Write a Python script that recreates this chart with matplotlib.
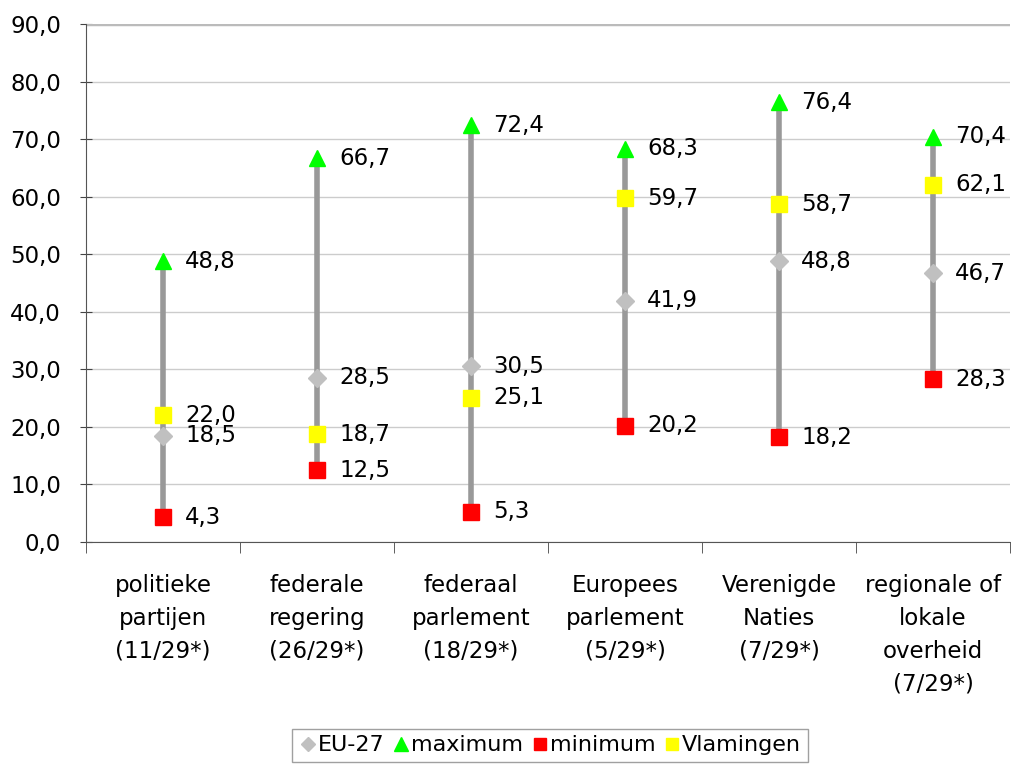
import numpy as np
import matplotlib.pyplot as plt
from matplotlib.ticker import FixedLocator

categories = ['politieke\npartijen\n(11/29*)', 'federale\nregering\n(26/29*)',
              'federaal\nparlement\n(18/29*)', 'Europees\nparlement\n(5/29*)',
              'Verenigde\nNaties\n(7/29*)', 'regionale of\nlokale\noverheid\n(7/29*)']
eu27 = [18.5, 28.5, 30.5, 41.9, 48.8, 46.7]
maximum = [48.8, 66.7, 72.4, 68.3, 76.4, 70.4]
minimum = [4.3, 12.5, 5.3, 20.2, 18.2, 28.3]
vlamingen = [22.0, 18.7, 25.1, 59.7, 58.7, 62.1]

plt.rcParams['font.family'] = ['DejaVu Sans']
fs = 16.5

def fmt(v):
    return f'{v:.1f}'.replace('.', ',')

fig = plt.figure(figsize=(10.11, 7.65), dpi=100)
ax = fig.add_axes([0.085, 0.2915, 0.914, 0.677])
x = np.arange(len(categories))

# high-low lines
ax.vlines(x, minimum, maximum, color='#999999', linewidth=4, zorder=2)

ax.plot(x, eu27, 'D', color='#c0c0c0', markersize=9, linestyle='none', label='EU-27', zorder=3)
ax.plot(x, maximum, '^', color='#00ff00', markersize=12, linestyle='none', label='maximum', zorder=3)
ax.plot(x, minimum, 's', color='#ff0000', markersize=11.5, linestyle='none', label='minimum', zorder=3)
ax.plot(x, vlamingen, 's', color='#ffff00', markersize=11.5, linestyle='none', label='Vlamingen', zorder=4)

for series in (eu27, maximum, minimum, vlamingen):
    for xi, v in zip(x, series):
        ax.annotate(fmt(v), (xi, v), xytext=(16, 0), textcoords='offset points',
                    va='center', ha='left', fontsize=fs, zorder=5)

ax.set_xlim(-0.5, 5.5)
ax.set_ylim(0, 90)
ax.set_yticks(np.arange(0, 91, 10))
ax.set_yticklabels([fmt(v) for v in np.arange(0, 91, 10)], fontsize=fs)
ax.yaxis.grid(True, color='#cccccc', linewidth=1)
ax.set_axisbelow(True)

ax.set_xticks(x)
ax.set_xticklabels(categories, fontsize=fs, linespacing=1.55)
ax.tick_params(axis='x', length=0, pad=23)
ax.xaxis.set_minor_locator(FixedLocator(np.arange(-0.5, 5.6, 1)))
ax.tick_params(axis='x', which='minor', length=8, direction='out', color='#444444')
ax.tick_params(axis='y', length=8, direction='inout', color='#444444', pad=14)

for s in ['top', 'right']:
    ax.spines[s].set_visible(False)
ax.spines['left'].set_color('#555555')
ax.spines['bottom'].set_color('#555555')
ax.axhline(90, color='#bbbbbb', linewidth=2.5, zorder=1)

leg = fig.legend(loc='lower center', bbox_to_anchor=(0.544, -0.005), ncol=4, frameon=True,
                 fontsize=16, handletextpad=0.05, columnspacing=0.35, handlelength=0.8,
                 borderpad=0.3, borderaxespad=0.3, fancybox=False, edgecolor='#888888',
                 markerscale=0.8)
leg.get_frame().set_linewidth(1)

fig.savefig('out.png', dpi=100)
